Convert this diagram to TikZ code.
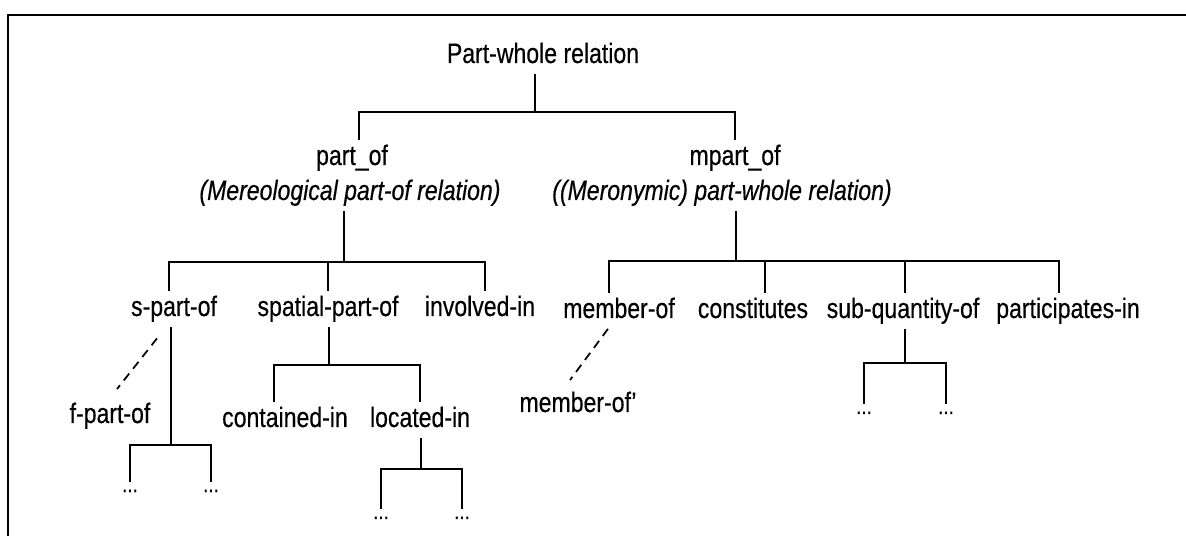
\documentclass[tikz,border=0pt]{standalone}
\usepackage{fontspec}
\setmainfont{Liberation Sans}[FakeStretch=0.82, FakeBold=0.4]

\tikzset{
  lbl/.style={anchor=base, inner xsep=0pt, inner ysep=3pt,
    text height=11pt, text depth=3pt,
    font=\fontsize{16}{19}\selectfont},
  sub/.style={lbl, font=\fontsize{16}{19}\selectfont\itshape},
  more/.style={anchor=base, inner xsep=0pt, inner ysep=2pt,
    text height=3.7pt, text depth=0pt,
    font=\fontsize{13}{15}\selectfont},
  branch/.style={line width=0.9pt},
  link/.style={line width=1pt, dash pattern=on 5pt off 3.5pt}
}

\begin{document}
\begin{tikzpicture}[x=0.02cm, y=-0.02cm]

		\useasboundingbox (0,0) rectangle (1186,536);

		% Frame
		\draw[line width=1.4pt] (1186,15) -- (8,15) -- (8,536);

		% Top
		\node[lbl] (root) at (543,63) {Part-whole relation};
		\node[lbl] (partof) at (352,165) {part\_of};
		\node[sub] (mereo) at (350,200) {(Mereological part-of relation)};
		\node[lbl] (mpartof) at (735,165) {mpart\_of};
		\node[sub] (meron) at (722,200) {((Meronymic) part-whole relation)};

		% Second level
		\node[lbl] (spart) at (174,316) {s-part-of};
		\node[lbl] (spatial) at (328,316) {spatial-part-of};
		\node[lbl] (involved) at (480,316) {involved-in};
		\node[lbl] (member) at (619,318) {member-of};
		\node[lbl] (constit) at (753,318) {constitutes};
		\node[lbl] (subq) at (903,318) {sub-quantity-of};
		\node[lbl] (particip) at (1068,318) {participates-in};

		% Third level
		\node[lbl] (fpart) at (110,423) {f-part-of};
		\node[lbl] (contained) at (285,427) {contained-in};
		\node[lbl] (located) at (420,427) {located-in};
		\node[lbl] (memberp) at (578,412) {member-of'};

		% Dots
		\node[more] (s1) at (130,492) {...};
		\node[more] (s2) at (211,492) {...};
		\node[more] (l1) at (381,519) {...};
		\node[more] (l2) at (462,519) {...};
		\node[more] (q1) at (864,414) {...};
		\node[more] (q2) at (946,414) {...};

		% Junctions
		\coordinate (j0) at (535,112);
		\coordinate (j1) at (344,262);
		\coordinate (j2) at (736,261);
		\coordinate (j3) at (171,445);
		\coordinate (j4) at (329,365);
		\coordinate (j5) at (421,469);
		\coordinate (j6) at (905,363);

		% Part-whole relation
		\draw[branch] (root.south -| j0) -- (j0);
		\draw[branch] (j0) -| ([xshift=1.4mm]partof.north);
		\draw[branch] (j0) -| (mpartof.north);

		% part_of
		\draw[branch] (mereo.south -| j1) -- (j1);
		\draw[branch] (j1) -| ([xshift=-1mm]spart.north);
		\draw[branch] (j1) -| (spatial.north);
		\draw[branch] (j1) -| ([xshift=1mm]involved.north);

		% mpart_of
		\draw[branch] (meron.south -| j2) -- (j2);
		\draw[branch] (j2) -| ([xshift=-2mm]member.north);
		\draw[branch] (j2) -| ([xshift=2.4mm]constit.north);
		\draw[branch] (j2) -| ([xshift=0.4mm]subq.north);
		\draw[branch] (j2) -| ([xshift=-1.8mm]particip.north);

		% Lower forks
		\draw[branch] (spart.south -| j3) -- (j3);
		\draw[branch] (j3) -| (s1.north);
		\draw[branch] (j3) -| (s2.north);

		\draw[branch] (spatial.south -| j4) -- (j4);
		\draw[branch] (j4) -| ([xshift=-2.2mm]contained.north);
		\draw[branch] (j4) -| (located.north);

		\draw[branch] (located.south -| j5) -- (j5);
		\draw[branch] (j5) -| (l1.north);
		\draw[branch] (j5) -| (l2.north);

		\draw[branch] (subq.south -| j6) -- (j6);
		\draw[branch] (j6) -| (q1.north);
		\draw[branch] (j6) -| (q2.north);

		% Dashed links
		\draw[link] ([xshift=-3.4mm,yshift=-2.3mm]spart.south)
		-- ([xshift=1.4mm,yshift=1.8mm]fpart.north);
		\draw[link] ([xshift=-2.2mm]member.south)
		-- ([xshift=-1.6mm,yshift=1.4mm]memberp.north);

	\end{tikzpicture}
\end{document}
